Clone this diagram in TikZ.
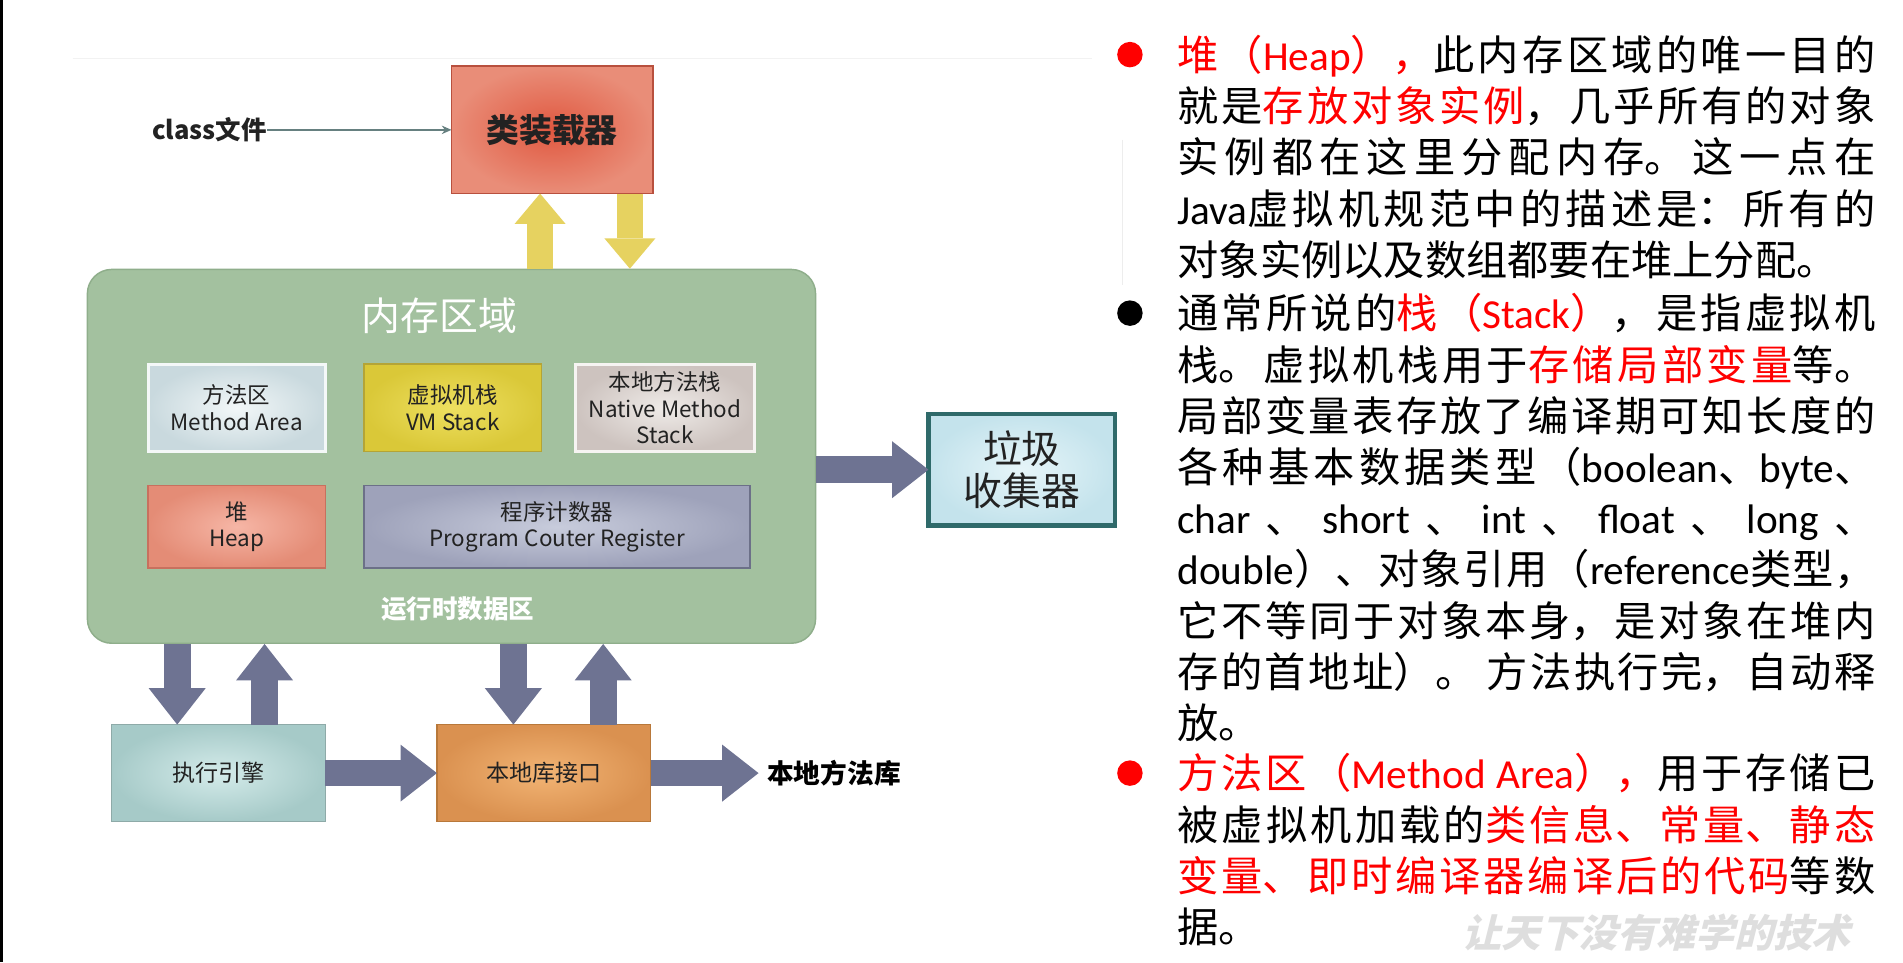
\documentclass[tikz,border=0pt]{standalone}
\usepackage{fontspec}
\setmainfont{Noto Sans CJK SC}
\newfontfamily\lat{Carlito}
\newfontfamily\dfont{Noto Sans CJK SC}
\newfontfamily\wmfont[FakeSlant=0.25]{Noto Sans CJK SC}
\usetikzlibrary{arrows.meta}
\XeTeXlinebreaklocale "zh"
\XeTeXlinebreakskip=0pt plus 10pt
\tolerance=9999
\definecolor{memgreen}{HTML}{A3C19F}
\definecolor{memgreenD}{HTML}{8FAE8B}
\definecolor{arrblue}{HTML}{6E7392}
\definecolor{arryel}{HTML}{E6D260}
\definecolor{gcborder}{HTML}{2F6A6A}
\definecolor{txtdark}{HTML}{222222}
\definecolor{ldIn}{HTML}{E05840}\definecolor{ldOut}{HTML}{E98D78}\definecolor{ldBd}{HTML}{B8503E}
\definecolor{maIn}{HTML}{F2F7F8}\definecolor{maOut}{HTML}{C9D9DE}\definecolor{maBd}{HTML}{F4F8F8}
\definecolor{vmIn}{HTML}{EEE060}\definecolor{vmOut}{HTML}{DAC838}\definecolor{vmBd}{HTML}{B4A436}
\definecolor{nmIn}{HTML}{EFEBE8}\definecolor{nmOut}{HTML}{CDC3BF}\definecolor{nmBd}{HTML}{F6F4F2}
\definecolor{hpIn}{HTML}{F6B6A6}\definecolor{hpOut}{HTML}{E48C76}\definecolor{hpBd}{HTML}{C8705E}
\definecolor{pcIn}{HTML}{C8CCDC}\definecolor{pcOut}{HTML}{9EA2BA}\definecolor{pcBd}{HTML}{6C7088}
\definecolor{gcIn}{HTML}{E6F5F9}\definecolor{gcOut}{HTML}{C4E3EC}
\definecolor{exIn}{HTML}{D4EBEA}\definecolor{exOut}{HTML}{A6CAC8}\definecolor{exBd}{HTML}{8EAAA8}
\definecolor{naIn}{HTML}{F2B474}\definecolor{naOut}{HTML}{DA9150}\definecolor{naBd}{HTML}{B8783A}
\tikzset{
  boxbase/.style={inner sep=0pt, outer sep=0pt, align=center, text=txtdark,
    font=\dfont\fontsize{18.5}{22}\selectfont},
  bluearr/.style={draw=arrblue, line width=22pt,
    -{Triangle[width=47pt,length=30pt,line width=0pt]}},
  yelarr/.style={draw=arryel, line width=21pt,
    -{Triangle[width=42pt,length=25pt,line width=0pt]}},
  thinarr/.style={draw=gray!80!teal, line width=1.1pt, -{Stealth[length=8pt,width=7pt]}},
  bullet/.style={circle, inner sep=0pt, minimum size=21pt},
  para/.style={anchor=base west, inner sep=0pt, text width=575pt, align=justify,
    font=\fontsize{34}{42.2}\selectfont, text=black},
}
\begin{document}
\begin{tikzpicture}[x=1pt,y=-1pt]
\fill[white] (0,0) rectangle (1568,793);
\useasboundingbox (0,0) rectangle (1568,793);
\draw[black, line width=2.4pt] (1.2,0) -- (1.2,793);
\draw[black!5, line width=1pt] (60,48) -- (900,48);
\draw[black!7, line width=1pt] (925,115) -- (925,235);

% ---- top part
\node[anchor=east, inner sep=0pt, font=\dfont\bfseries\fontsize{21}{21}\selectfont, text=txtdark] (cls) at (220,107) {class文件};
\node[boxbase, minimum width=166pt, minimum height=105pt, inner color=ldIn, outer color=ldOut, draw=ldBd, line width=1.2pt, font=\dfont\bfseries\fontsize{27}{27}\selectfont] (loader) at (455,107) {类装载器};
\draw[thinarr] (cls.east) -- (loader.west);

% ---- memory area
\node[minimum width=600pt, minimum height=308pt, rounded corners=20pt, fill=memgreen, draw=memgreenD, line width=1.2pt, inner sep=0pt] (mem) at (372,376) {};
\node[text=white, font=\dfont\fontsize{32}{32}\selectfont, inner sep=0pt] (memt) at (362,260) {内存区域};

\node[boxbase, minimum width=146pt, minimum height=72pt, inner color=maIn, outer color=maOut, draw=maBd, line width=2.5pt] (ma) at (195,336) {方法区\\Method Area};
\node[boxbase, minimum width=146pt, minimum height=72pt, inner color=vmIn, outer color=vmOut, draw=vmBd, line width=1.2pt] (vm) at (373,336) {虚拟机栈\\VM Stack};
\node[boxbase, minimum width=148pt, minimum height=72pt, inner color=nmIn, outer color=nmOut, draw=nmBd, line width=2.5pt] (nm) at (548,336) {本地方法栈\\Native Method\\Stack};
\node[boxbase, minimum width=146pt, minimum height=68pt, inner color=hpIn, outer color=hpOut, draw=hpBd, line width=1.2pt] (heap) at (195,434) {堆\\Heap};
\node[boxbase, minimum width=318pt, minimum height=68pt, inner color=pcIn, outer color=pcOut, draw=pcBd, line width=1.2pt] (pc) at (459,434) {程序计数器\\Program Couter Register};
\node[text=white, font=\dfont\bfseries\fontsize{21}{21}\selectfont, inner sep=0pt] (rt) at (377,502) {运行时数据区};

% ---- yellow arrows
\coordinate (yu) at (445,0);
\coordinate (yd) at (519,0);
\draw[yelarr] (yu |- mem.north) -- (yu |- loader.south);
\draw[yelarr] (yd |- loader.south) -- (yd |- mem.north);

% ---- garbage collector
\node[boxbase, minimum width=154pt, minimum height=92pt, inner color=gcIn, outer color=gcOut, draw=gcborder, line width=3.5pt, font=\dfont\fontsize{32}{34}\selectfont] (gc) at (842,387) {垃圾\\收集器};
\draw[bluearr] (mem.east |- gc.west) -- (gc.west);

% ---- bottom
\node[boxbase, minimum width=176pt, minimum height=80pt, inner color=exIn, outer color=exOut, draw=exBd, line width=1.2pt, font=\dfont\fontsize{19}{19}\selectfont] (exec) at (180,637) {执行引擎};
\node[boxbase, minimum width=176pt, minimum height=80pt, inner color=naIn, outer color=naOut, draw=naBd, line width=1.2pt, font=\dfont\fontsize{19}{19}\selectfont] (nat) at (448,637) {本地库接口};
\node[anchor=west, inner sep=0pt, text=black, font=\dfont\bfseries\fontsize{22}{22}\selectfont] (lib) at (632,637) {本地方法库};

\coordinate (d1) at (146,0);
\coordinate (u1) at (218,0);
\coordinate (d2) at (423,0);
\coordinate (u2) at (497,0);
\draw[bluearr] (d1 |- mem.south) -- (d1 |- exec.north);
\draw[bluearr] (u1 |- exec.north) -- (u1 |- mem.south);
\draw[bluearr] (d2 |- mem.south) -- (d2 |- nat.north);
\draw[bluearr] (u2 |- nat.north) -- (u2 |- mem.south);
\draw[bluearr] (exec.east) -- (nat.west);
\draw[bluearr] (nat.east) -- ([xshift=-7pt]lib.west);

% ---- right text
\node[bullet, fill=red] (b1) at (931,45) {};
\node[bullet, fill=black] (b2) at (931,258) {};
\node[bullet, fill=red] (b3) at (931,637) {};

\node[para] (p1) at (970,58) {{\color{red}堆（{\lat Heap}），}此内存区域的唯一目的\linebreak
就是{\color{red}存放对象实例}，几乎所有的对象\linebreak
实例都在这里分配内存。这一点在\linebreak
{\lat Java}虚拟机规范中的描述是：所有的\linebreak
对象实例以及数组都要在堆上分配。};

\node[para] (p2) at (970,271) {通常所说的{\color{red}栈（{\lat Stack}）}，是指虚拟机\linebreak
栈。虚拟机栈用于{\color{red}存储局部变量}等。\linebreak
局部变量表存放了编译期可知长度的\linebreak
各种基本数据类型（{\lat boolean}、{\lat byte}、\linebreak
{\lat char} 、 {\lat short} 、 {\lat int} 、 {\lat float} 、 {\lat long} 、\linebreak
{\lat double}）、对象引用（{\lat reference}类型，\linebreak
它不等同于对象本身，是对象在堆内\linebreak
存的首地址）。 方法执行完，自动释\linebreak
放。};

\node[para] (p3) at (970,650) {{\color{red}方法区（{\lat Method Area}），}用于存储已\linebreak
被虚拟机加载的{\color{red}类信息、常量、静态\linebreak
变量、即时编译器编译后的代码}等数\linebreak
据。};

\node[inner sep=0pt, text=black!13, font=\wmfont\bfseries\fontsize{32}{32}\selectfont] (wm) at (1365,768) {让天下没有难学的技术};
\end{tikzpicture}
\end{document}
